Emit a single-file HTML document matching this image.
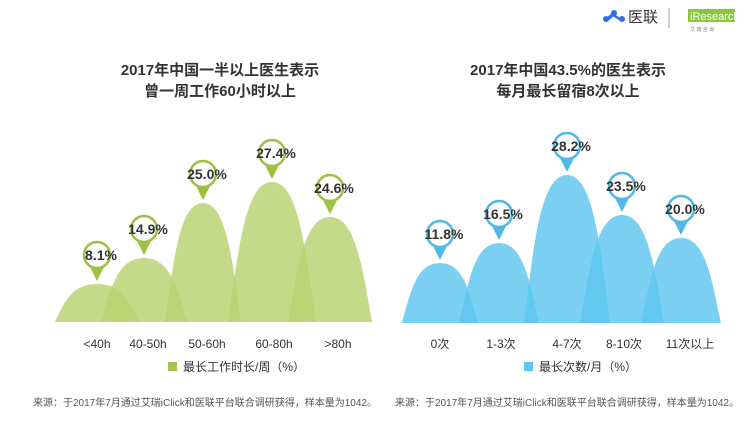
<!DOCTYPE html><html><head><meta charset="utf-8"><style>
body{margin:0;width:750px;height:427px;background:#fff;overflow:hidden;font-family:"Liberation Sans","Noto Sans CJK SC",sans-serif}
</style></head><body>
<svg width="750" height="427" xmlns="http://www.w3.org/2000/svg" style="font-family:'Liberation Sans','Noto Sans CJK SC',sans-serif">
<g fill="#2f6fe6"><circle cx="606" cy="19" r="3"/><circle cx="614" cy="13" r="3"/><circle cx="622" cy="19" r="3"/><path d="M604 20 L613 12 L616 14 L607 22Z M612 13 L624 20 L622 22 L611 15Z"/></g>
<text x="628" y="22" font-size="15" fill="#333">医联</text>
<line x1="669" y1="8" x2="669" y2="28" stroke="#999"/>
<rect x="688" y="9" width="47" height="13" fill="#8cc63f"/><text x="690" y="20" font-size="11" fill="#fff">iResearch</text>
<text x="690" y="31" font-size="5" fill="#888">艾 瑞 咨 询</text>
<g font-size="15" font-weight="bold" fill="#333" text-anchor="middle">
<text x="220" y="75">2017年中国一半以上医生表示</text><text x="220" y="96">曾一周工作60小时以上</text>
<text x="568" y="75">2017年中国43.5%的医生表示</text><text x="568" y="96">每月最长留宿8次以上</text></g>
<g fill="#b8d26f" fill-opacity="0.82">
<path d="M55 322 C65 301 72 284 97 284 C122 284 129 301 139 322Z"/>
<path d="M101 322 C111 287 118 258 144 258 C170 258 177 287 187 322Z"/>
<path d="M165 322 C174 257 180 203 203 203 C226 203 232 257 241 322Z"/>
<path d="M228 322 C239 245 246 182 272 182 C298 182 305 245 316 322Z"/>
<path d="M288 322 C298 264 305 217 330 217 C355 217 362 264 372 322Z"/>
</g>
<g fill="#5ec6ee" fill-opacity="0.82">
<path d="M402 323 C411 290 417 263 440 263 C463 263 469 290 478 323Z"/>
<path d="M459 323 C469 279 475 243 499 243 C523 243 529 279 539 323Z"/>
<path d="M524 323 C534 242 541 175 567 175 C593 175 600 242 610 323Z"/>
<path d="M580 323 C590 264 597 215 622 215 C647 215 654 264 664 323Z"/>
<path d="M641 323 C651 276 657 238 681 238 C705 238 711 276 721 323Z"/>
</g>
<g transform="translate(0,-4)">
<g fill="#9dc143"><path d="M90 271 L97 285 L104 271Z"/><path d="M137 245 L144 259 L151 245Z"/><path d="M196 190 L203 204 L210 190Z"/><path d="M265 169 L272 183 L279 169Z"/><path d="M323 204 L330 218 L337 204Z"/></g>
<g fill="#fff" stroke="#9dc143" stroke-width="2.5"><circle cx="97" cy="259" r="13"/><circle cx="144" cy="233" r="13"/><circle cx="203" cy="178" r="13"/><circle cx="272" cy="157" r="13"/><circle cx="330" cy="192" r="13"/></g>
<g fill="#4fb8e6"><path d="M433 250 L440 264 L447 250Z"/><path d="M492 230 L499 244 L506 230Z"/><path d="M560 162 L567 176 L574 162Z"/><path d="M615 202 L622 216 L629 202Z"/><path d="M674 225 L681 239 L688 225Z"/></g>
<g fill="#fff" stroke="#4fb8e6" stroke-width="2.5"><circle cx="440" cy="238" r="13"/><circle cx="499" cy="218" r="13"/><circle cx="567" cy="150" r="13"/><circle cx="622" cy="190" r="13"/><circle cx="681" cy="213" r="13"/></g>
<g font-size="14" font-weight="bold" fill="#333" text-anchor="middle">
<text x="101" y="264">8.1%</text><text x="148" y="238">14.9%</text><text x="207" y="183">25.0%</text><text x="276" y="162">27.4%</text><text x="334" y="197">24.6%</text>
<text x="444" y="243">11.8%</text><text x="503" y="223">16.5%</text><text x="571" y="155">28.2%</text><text x="626" y="195">23.5%</text><text x="685" y="218">20.0%</text>
</g></g>
<g font-size="12" fill="#333" text-anchor="middle">
<text x="97" y="348">&lt;40h</text><text x="148" y="348">40-50h</text><text x="207" y="348">50-60h</text><text x="274" y="348">60-80h</text><text x="338" y="348">&gt;80h</text>
<text x="440" y="348">0次</text><text x="501" y="348">1-3次</text><text x="567" y="348">4-7次</text><text x="624" y="348">8-10次</text><text x="690" y="348">11次以上</text></g>
<rect x="168" y="362" width="9" height="9" fill="#a5c550"/><text x="183" y="371" font-size="12" fill="#333">最长工作时长/周（%）</text>
<rect x="524" y="362" width="9" height="9" fill="#5ec6ee"/><text x="539" y="371" font-size="12" fill="#333">最长次数/月（%）</text>
<g font-size="10" fill="#555"><text x="33" y="406">来源：于2017年7月通过艾瑞iClick和医联平台联合调研获得，样本量为1042。</text>
<text x="395" y="406">来源：于2017年7月通过艾瑞iClick和医联平台联合调研获得，样本量为1042。</text></g>
</svg></body></html>
